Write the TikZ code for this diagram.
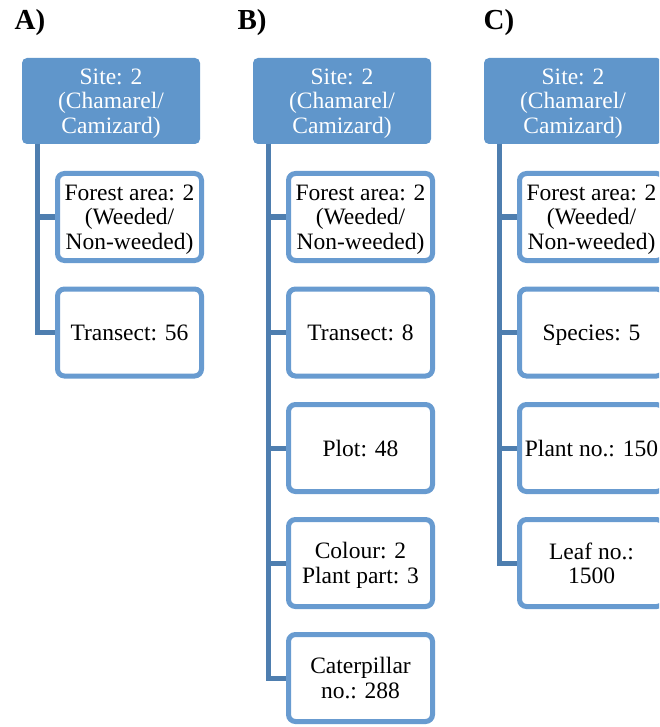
\documentclass[tikz,border=0pt]{standalone}
\usepackage{fontspec}
\setmainfont{Liberation Serif}
\definecolor{hdr}{RGB}{96,150,203}
\definecolor{bord}{RGB}{104,155,208}
\definecolor{conn}{RGB}{78,126,175}
\begin{document}
\begin{tikzpicture}[x=1pt,y=-1pt,
  hdrbox/.style={rectangle, rounded corners=5pt, fill=hdr, text=white, minimum width=178pt, minimum height=86pt, inner sep=0pt, text depth=0pt, align=center, font=\fontsize{23.5}{24.5}\selectfont},
  kidbox/.style={rectangle, rounded corners=7pt, draw=bord, line width=5pt, fill=white, text=black, minimum width=144pt, minimum height=87pt, inner sep=0pt, text depth=0pt, align=center, font=\fontsize{23.5}{24.5}\selectfont},
  lbl/.style={font=\fontsize{29}{30}\selectfont\bfseries, inner sep=0pt},
  link/.style={draw=conn, line width=5pt}]
\useasboundingbox (0,0) rectangle (659,727);
\clip (0,0) rectangle (659,727);
% labels
\node[lbl] (la) at (30,23) {A)};
\node[lbl] (lb) at (252,23) {B)};
\node[lbl] (lc) at (499,23) {C)};
% column A
\node[hdrbox] (ha) at (111,101) {Site: 2\\(Chamarel/\\Camizard)};
\node[kidbox] (a1) at (129.5,217) {Forest area: 2\\(Weeded/\\Non-weeded)};
\node[kidbox] (a2) at (129.5,332.5) {Transect: 56};
\coordinate (ta) at (37,144);
\draw[link] (ta) |- (a1.west);
\draw[link] (ta) |- (a2.west);
% column B
\node[hdrbox] (hb) at (342,101) {Site: 2\\(Chamarel/\\Camizard)};
\node[kidbox] (b1) at (360.5,217) {Forest area: 2\\(Weeded/\\Non-weeded)};
\node[kidbox] (b2) at (360.5,332.5) {Transect: 8};
\node[kidbox] (b3) at (360.5,448) {Plot: 48};
\node[kidbox] (b4) at (360.5,563) {Colour: 2\\Plant part: 3};
\node[kidbox] (b5) at (360.5,678) {Caterpillar\\no.: 288};
\coordinate (tb) at (268,144);
\foreach \k in {b1,b2,b3,b4,b5} {\draw[link] (tb) |- (\k.west);}
% column C
\node[hdrbox] (hc) at (573,101) {Site: 2\\(Chamarel/\\Camizard)};
\node[kidbox] (c1) at (591.5,217) {Forest area: 2\\(Weeded/\\Non-weeded)};
\node[kidbox] (c2) at (591.5,332.5) {Species: 5};
\node[kidbox] (c3) at (591.5,448) {Plant no.: 150};
\node[kidbox] (c4) at (591.5,563) {Leaf no.:\\1500};
\coordinate (tc) at (499,144);
\foreach \k in {c1,c2,c3,c4} {\draw[link] (tc) |- (\k.west);}
\end{tikzpicture}
\end{document}
